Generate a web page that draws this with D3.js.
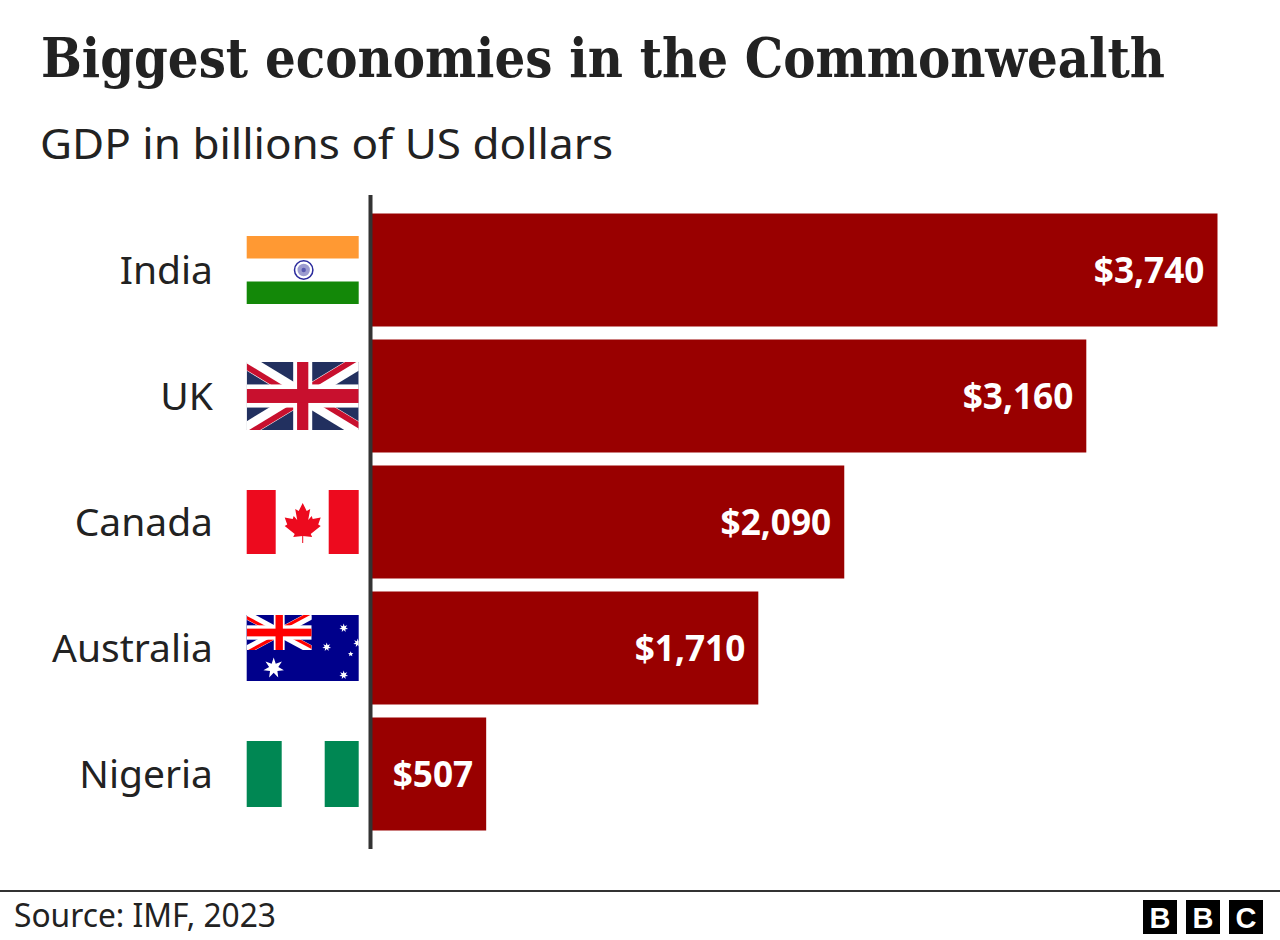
<!DOCTYPE html>
<html><head><meta charset="utf-8">
<script src="https://cdn.jsdelivr.net/npm/d3@7"></script>
<style>html,body{margin:0;padding:0;background:#fff}svg{display:block}</style>
</head><body><div id="chart"></div>
<script>
const categories = ["India","UK","Canada","Australia","Nigeria"];
const values = [3740,3160,2090,1710,507];
const valueLabels = ["$3,740","$3,160","$2,090","$1,710","$507"];
const flagKeys = ["india","uk","canada","australia","nigeria"];
const titleText = "Biggest economies in the Commonwealth";
const subtitleText = "GDP in billions of US dollars";
const sourceText = "Source: IMF, 2023";

const W=1280,H=940;
const svg=d3.select("#chart").append("svg").attr("width",W).attr("height",H).style("font-family","'Noto Sans',sans-serif");
svg.append("rect").attr("width",W).attr("height",H).attr("fill","#fff");

svg.append("text").attr("x",41).attr("y",76.5).attr("font-family","'DejaVu Serif',serif").attr("font-weight",700)
  .style("font-stretch","condensed").attr("font-size",55).attr("fill","#222").attr("textLength",1124).attr("lengthAdjust","spacingAndGlyphs").text(titleText);
svg.append("text").attr("x",40).attr("y",159).attr("font-size",42).attr("fill","#222").attr("textLength",573).attr("lengthAdjust","spacingAndGlyphs").text(subtitleText);

const x=d3.scaleLinear().domain([0,3740]).range([371.5,1217.5]);
const y=d3.scaleBand().domain(categories).range([207,837]).paddingInner(13/126).paddingOuter(6.5/126);

svg.selectAll("rect.bar").data(categories).join("rect").attr("class","bar")
  .attr("x",x(0)).attr("y",d=>y(d)).attr("width",(d,i)=>x(values[i])-x(0)).attr("height",y.bandwidth()).attr("fill","#990000");

svg.selectAll("text.val").data(categories).join("text").attr("class","val")
  .attr("x",(d,i)=>x(values[i])-13).attr("y",d=>y(d)+y.bandwidth()/2+12.5)
  .attr("text-anchor","end").attr("font-size",35.2).attr("font-weight",700).attr("fill","#fff").text((d,i)=>valueLabels[i]);

svg.selectAll("text.cat").data(categories).join("text").attr("class","cat")
  .attr("x",213).attr("y",d=>y(d)+y.bandwidth()/2+14)
  .attr("text-anchor","end").attr("font-size",39).attr("fill","#222").text(d=>d);

svg.append("line").attr("x1",370.5).attr("x2",370.5).attr("y1",195).attr("y2",849).attr("stroke","#333").attr("stroke-width",4);

function star(cx,cy,R,n){const r=R*0.45,p=[];for(let i=0;i<n*2;i++){const a=-Math.PI/2+i*Math.PI/n,q=i%2?r:R;p.push([cx+q*Math.cos(a),cy+q*Math.sin(a)]);}return "M"+p.join("L")+"Z";}
// Union-style flag; o holds the stripe proportions relative to the height
function jack(g,id,w,h,blue,red,o){
  g.append("clipPath").attr("id",id).append("rect").attr("width",w).attr("height",h);
  const k=g.append("g").attr("clip-path",`url(#${id})`);
  k.append("rect").attr("width",w).attr("height",h).attr("fill",blue);
  [[0,0,w,h],[w,0,0,h]].forEach(d=>k.append("line").attr("x1",d[0]).attr("y1",d[1]).attr("x2",d[2]).attr("y2",d[3]).attr("stroke","#fff").attr("stroke-width",h*o.diagW));
  const off=h*o.diagW/5;
  const quads=[[0,0,-off,off],[w,0,-off,-off],[0,h,off,off],[w,h,off,-off]];
  quads.forEach((q,i)=>{
    const qx=q[0]?w/2:0, qy=q[1]?h/2:0, cid=id+"q"+i;
    g.append("clipPath").attr("id",cid).append("rect").attr("x",qx).attr("y",qy).attr("width",w/2).attr("height",h/2);
    k.append("line").attr("clip-path",`url(#${cid})`).attr("x1",q[0]+q[2]).attr("y1",q[1]+q[3]).attr("x2",w/2+q[2]).attr("y2",h/2+q[3]).attr("stroke",red).attr("stroke-width",h*o.diagR);
  });
  const c=(a,len)=>len/2-a/2;
  k.append("rect").attr("x",c(h*o.vW,w)).attr("width",h*o.vW).attr("height",h).attr("fill","#fff");
  k.append("rect").attr("y",c(h*o.hW,h)).attr("width",w).attr("height",h*o.hW).attr("fill","#fff");
  k.append("rect").attr("x",c(h*o.vR,w)).attr("width",h*o.vR).attr("height",h).attr("fill",red);
  k.append("rect").attr("y",c(h*o.hR,h)).attr("width",w).attr("height",h*o.hR).attr("fill",red);
}
const flags={
  india(g){
    g.append("rect").attr("y",-34).attr("width",112).attr("height",22.5).attr("fill","#ff9933");
    g.append("rect").attr("y",11.5).attr("width",112).attr("height",22.5).attr("fill","#138808");
    g.append("circle").attr("cx",57).attr("cy",0).attr("r",9.2).attr("fill","#fff").attr("stroke","#2a2a9c").attr("stroke-width",1.5);
    g.append("circle").attr("cx",57).attr("cy",0).attr("r",6.2).attr("fill","#9c9cd0");
    g.append("circle").attr("cx",57).attr("cy",0).attr("r",2.2).attr("fill","#5a5ab0");
  },
  uk(g){g.attr("transform",g.attr("transform")+" translate(0,-34)");
    jack(g,"ukf",112,68,"#22305f","#c8102e",{diagW:.22,diagR:.085,vW:.28,hW:.34,vR:.165,hR:.205});},
  canada(g){
    g.append("rect").attr("y",-32).attr("width",29).attr("height",64).attr("fill","#ed0a1e");
    g.append("rect").attr("x",82).attr("y",-32).attr("width",30).attr("height",64).attr("fill","#ed0a1e");
    const leaf="M0,-20L-4,-12L-7.5,-14L-5.5,-3L-9,-7L-10,-4L-18,-5.5L-15.5,1.5L-18,3L-8,11L-9.5,14L0,13L9.5,14L8,11L18,3L15.5,1.5L18,-5.5L10,-4L9,-7L5.5,-3L7.5,-14L4,-12Z";
    g.append("path").attr("transform","translate(56,1)").attr("d",leaf).attr("fill","#ed0a1e");
    g.append("rect").attr("x",55.5).attr("y",12).attr("width",1).attr("height",9).attr("fill","#ed0a1e");
  },
  australia(g){
    g.attr("transform",g.attr("transform")+" translate(0,-33)");
    g.append("rect").attr("width",112).attr("height",66).attr("fill","#00008b");
    jack(g,"auj",65,35,"#00008b","#ff0000",{diagW:.24,diagR:.09,vW:.31,hW:.41,vR:.21,hR:.22});
    g.append("clipPath").attr("id","auclip").append("rect").attr("width",112).attr("height",66);
    [[97,13,4.5,7],[80,32,4.5,7],[111,28,4.5,7],[104,39,2.8,5],[97,60,4.5,7],[27,53,10.5,7]].forEach(s=>
      g.append("path").attr("clip-path","url(#auclip)").attr("d",star(...s)).attr("fill","#fff"));
  },
  nigeria(g){
    g.append("rect").attr("y",-33).attr("width",35).attr("height",66).attr("fill","#008753");
    g.append("rect").attr("x",78).attr("y",-33).attr("width",34).attr("height",66).attr("fill","#008753");
  }
};
categories.forEach((c,i)=>{
  const g=svg.append("g").attr("transform",`translate(246.7,${y(c)+y.bandwidth()/2})`);
  flags[flagKeys[i]](g);
});

svg.append("line").attr("x1",0).attr("x2",W).attr("y1",891).attr("y2",891).attr("stroke","#333").attr("stroke-width",2);
svg.append("text").attr("x",14).attr("y",927).attr("font-size",32).attr("fill","#222").attr("textLength",262).attr("lengthAdjust","spacingAndGlyphs").text(sourceText);
["B","B","C"].forEach((l,i)=>{
  const bx=1143+i*43;
  svg.append("rect").attr("x",bx).attr("y",900).attr("width",34).attr("height",34).attr("fill","#000");
  svg.append("text").attr("x",bx+17).attr("y",928).attr("text-anchor","middle").attr("font-size",29).attr("font-weight",700)
    .attr("font-family","'Liberation Sans',sans-serif").attr("fill","#fff").text(l);
});
</script></body></html>
